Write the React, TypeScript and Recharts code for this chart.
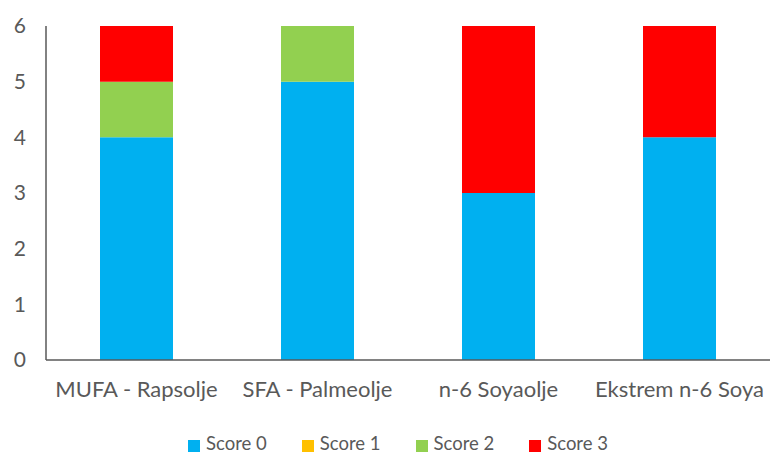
import React from 'react';
import { BarChart, Bar, XAxis, YAxis, Legend } from 'recharts';

const categories = ['MUFA - Rapsolje', 'SFA - Palmeolje', 'n-6 Soyaolje', 'Ekstrem n-6 Soya'];
const score0 = [4, 5, 3, 4];
const score1 = [0, 0, 0, 0];
const score2 = [1, 1, 0, 0];
const score3 = [1, 0, 3, 2];
const yTicks = [0, 1, 2, 3, 4, 5, 6];

const data = categories.map((name, i) => ({
  name,
  s0: score0[i],
  s1: score1[i],
  s2: score2[i],
  s3: score3[i],
}));

const font = "Lato, sans-serif";
const textColor = '#595959';

export default function App() {
  return (
    <div style={{ position: 'absolute', left: 0, top: 0, background: '#fff', fontFamily: font }}>
      <BarChart
        width={773}
        height={454}
        data={data}
        margin={{ top: 26, right: 3, bottom: 0, left: 0 }}
        barSize={73}
      >
        <XAxis
          dataKey="name"
          axisLine={{ stroke: '#595959', strokeWidth: 1.5 }}
          tickLine={false}
          height={70}
          tickMargin={15}
          tick={{ fill: textColor, fontSize: 22, fontFamily: font }}
          interval={0}
        />
        <YAxis
          width={46}
          domain={[0, 6]}
          ticks={yTicks}
          axisLine={{ stroke: '#595959', strokeWidth: 1.5 }}
          tickLine={false}
          tickMargin={14}
          tick={{ fill: textColor, fontSize: 21, fontFamily: font }}
        />
        <Legend
          verticalAlign="bottom"
          height={24}
          iconType="square"
          iconSize={12}
          wrapperStyle={{ bottom: -2, left: 18 }}
          formatter={(v, _e, i) => (
            <span style={{ color: textColor, fontSize: 18.5, fontFamily: font, marginLeft: 2, marginRight: i === 3 ? 0 : 25 }}>{v}</span>
          )}
        />
        <Bar dataKey="s0" name="Score 0" stackId="a" fill="#00B0F0" isAnimationActive={false} />
        <Bar dataKey="s1" name="Score 1" stackId="a" fill="#FFC000" isAnimationActive={false} />
        <Bar dataKey="s2" name="Score 2" stackId="a" fill="#92D050" isAnimationActive={false} />
        <Bar dataKey="s3" name="Score 3" stackId="a" fill="#FF0000" isAnimationActive={false} />
      </BarChart>
    </div>
  );
}
